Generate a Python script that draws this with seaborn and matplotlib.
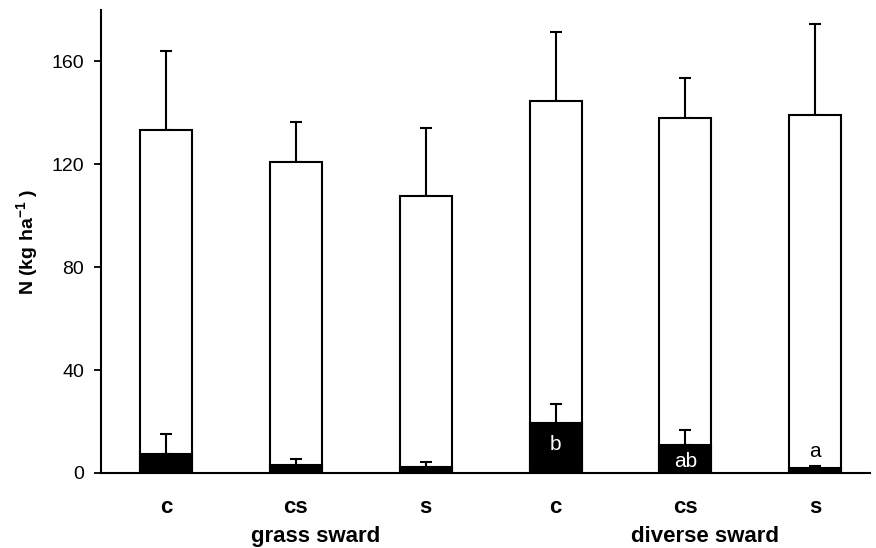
import matplotlib
matplotlib.use("Agg")
import matplotlib.pyplot as plt
import seaborn as sns
import pandas as pd
import numpy as np

sns.set_theme(style="ticks")
plt.rcParams['font.family'] = ['Liberation Sans', 'DejaVu Sans']
plt.rcParams['text.color'] = 'black'
plt.rcParams['axes.labelcolor'] = 'black'
plt.rcParams['xtick.color'] = 'black'
plt.rcParams['ytick.color'] = 'black'
plt.rcParams['mathtext.fontset'] = 'custom'
plt.rcParams['mathtext.rm'] = 'Liberation Sans'
plt.rcParams['mathtext.bf'] = 'Liberation Sans:bold'

# Data
groups = ["grass sward", "grass sward", "grass sward", "diverse sward", "diverse sward", "diverse sward"]
treatments = ["c", "cs", "s", "c", "cs", "s"]
total_n = [133.2, 120.8, 107.6, 144.5, 137.9, 139.0]
total_err = [30.7, 15.5, 26.4, 26.8, 15.5, 35.4]
black_n = [7.4, 3.1, 2.3, 19.4, 10.9, 1.9]
black_err = [7.7, 2.3, 2.0, 7.4, 5.8, 0.8]
letters = ["", "", "", "b", "ab", "a"]
letter_y = [0, 0, 0, 10.9, 4.3, 8.5]
letter_colors = ["white", "white", "white", "white", "white", "black"]
y_ticks = [0, 40, 80, 120, 160]

keys = [f"{g}|{t}" for g, t in zip(groups, treatments)]
df = pd.DataFrame({"key": keys, "total": total_n, "black": black_n})

fig = plt.figure(figsize=(8.76, 5.48), dpi=100)
ax = fig.add_axes([0.1153, 0.1369, 0.8777, 0.845])

sns.barplot(data=df, x="key", y="total", order=keys, color="white",
            edgecolor="black", linewidth=1.5, width=0.4, ax=ax, zorder=2,
            saturation=1)
sns.barplot(data=df, x="key", y="black", order=keys, color="black",
            edgecolor="black", linewidth=1.5, width=0.4, ax=ax, zorder=3,
            saturation=1)

xpos = np.arange(len(keys))
zeros = np.zeros(len(keys))
ax.errorbar(xpos, total_n, yerr=[zeros, total_err], fmt="none", ecolor="black",
            elinewidth=1.5, capsize=4.5, capthick=1.5, zorder=1)
ax.errorbar(xpos, black_n, yerr=[zeros, black_err], fmt="none", ecolor="black",
            elinewidth=1.5, capsize=4.5, capthick=1.5, zorder=4)

# Significance letters
for xp, lab, ly, lc in zip(xpos, letters, letter_y, letter_colors):
    if lab:
        ax.text(xp, ly, lab, color=lc, ha="center", va="center", fontsize=15, zorder=5)

ax.set_xlim(-0.5, 5.42)
ax.set_ylim(0, 180)
ax.set_yticks(y_ticks)
ax.set_yticklabels([str(v) for v in y_ticks], fontsize=14)
ax.set_xticks(xpos)
ax.set_xticklabels(treatments, fontsize=16, fontweight="bold")
ax.tick_params(axis="x", length=0, pad=17)
ax.tick_params(axis="y", length=5, width=1.3, direction="out", pad=7)
ax.set_xlabel("")
ax.set_ylabel(r"N (kg ha$^{\mathbf{-1}}$ )", fontsize=14, fontweight="bold")
ax.yaxis.set_label_coords(-0.078, 0.5)

for s in ["top", "right"]:
    ax.spines[s].set_visible(False)
for s in ["left", "bottom"]:
    ax.spines[s].set_linewidth(1.5)
    ax.spines[s].set_color("black")

for gx, gname in [(1.15, "grass sward"), (4.15, "diverse sward")]:
    ax.text(gx, -0.149, gname, transform=ax.get_xaxis_transform(), ha="center",
            va="baseline", fontsize=16, fontweight="bold")

ax.grid(False)
fig.savefig("out.png", dpi=100, facecolor="white")
